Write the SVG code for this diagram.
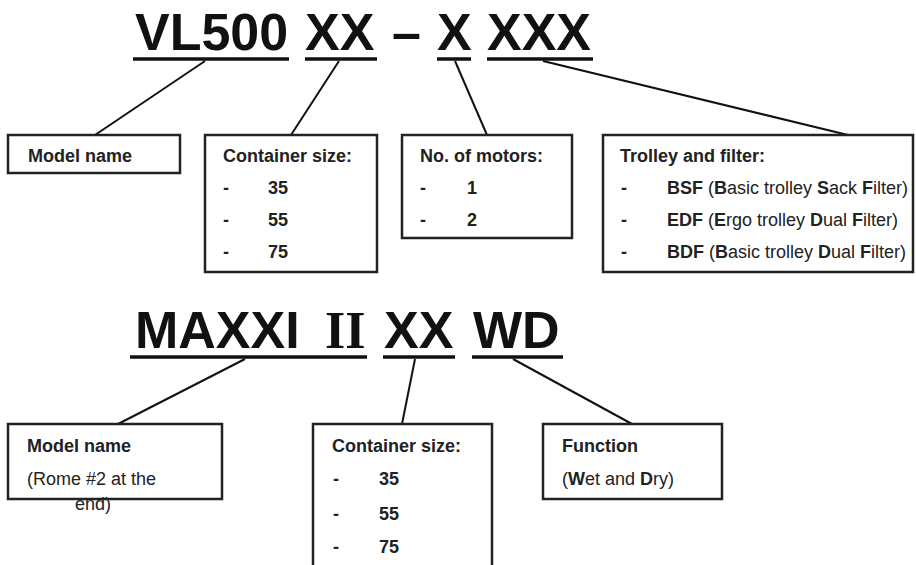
<svg xmlns="http://www.w3.org/2000/svg" width="916" height="565" viewBox="0 0 916 565">
<style>
.big{font-family:"Liberation Sans",Arial,sans-serif;font-weight:bold;font-size:52px;fill:#111}
.roman{font-family:"Liberation Serif","Times New Roman",serif;font-weight:bold;font-size:52px;fill:#111}
.ul{stroke:#111;stroke-width:3.5}
.box{fill:#fff;stroke:#222;stroke-width:2.5}
.conn line{stroke:#111;stroke-width:2}
.t{font-family:"Liberation Sans",Arial,sans-serif;font-size:18px;fill:#222}
.b{font-weight:bold}
</style>
<rect width="916" height="565" fill="#fff"/>
<g id="title1">
<text class="big" x="135" y="50">VL500</text>
<text class="big" x="305" y="50">XX</text>
<text class="big" x="392" y="50">–</text>
<text class="big" x="437" y="50">X</text>
<text class="big" x="487" y="50">XXX</text>
<line class="ul" x1="133" y1="59" x2="289" y2="59"/>
<line class="ul" x1="305" y1="59" x2="377" y2="59"/>
<line class="ul" x1="437" y1="59" x2="471" y2="59"/>
<line class="ul" x1="487" y1="59" x2="593" y2="59"/>
</g>
<g id="title2">
<text class="big" x="135" y="348">MAXXI</text>
<text class="roman" x="325" y="348">II</text>
<text class="big" x="384" y="348">XX</text>
<text class="big" x="473" y="348">WD</text>
<line class="ul" x1="130" y1="357" x2="367" y2="357"/>
<line class="ul" x1="383" y1="357" x2="455" y2="357"/>
<line class="ul" x1="472" y1="357" x2="563" y2="357"/>
</g>
<g id="connectors" class="conn">
<line x1="205" y1="61" x2="95" y2="135"/>
<line x1="339" y1="61" x2="291" y2="135"/>
<line x1="455" y1="61" x2="487" y2="135"/>
<line x1="543" y1="61" x2="848" y2="135"/>
<line x1="245" y1="359" x2="118" y2="424"/>
<line x1="415" y1="359" x2="402" y2="424"/>
<line x1="513" y1="359" x2="632" y2="424"/>
</g>
<g id="model1">
<rect class="box" x="8" y="135" width="172" height="38"/>
<text class="t b" x="28" y="162">Model name</text>
</g>
<g id="container1">
<rect class="box" x="205" y="135" width="172" height="137"/>
<text class="t b" x="223" y="162">Container size:</text>
<text class="t b" x="223" y="194">-</text><text class="t b" x="268" y="194">35</text>
<text class="t b" x="223" y="226">-</text><text class="t b" x="268" y="226">55</text>
<text class="t b" x="223" y="258">-</text><text class="t b" x="268" y="258">75</text>
</g>
<g id="motors">
<rect class="box" x="402" y="135" width="170" height="103"/>
<text class="t b" x="420" y="162">No. of motors:</text>
<text class="t b" x="420" y="194">-</text><text class="t b" x="467" y="194">1</text>
<text class="t b" x="420" y="226">-</text><text class="t b" x="467" y="226">2</text>
</g>
<g id="trolley">
<rect class="box" x="603" y="135" width="310" height="137"/>
<text class="t b" x="620" y="162">Trolley and filter:</text>
<text class="t b" x="621" y="194">-</text>
<text class="t" x="667" y="194"><tspan class="b">BSF</tspan> (<tspan class="b">B</tspan>asic trolley <tspan class="b">S</tspan>ack <tspan class="b">F</tspan>ilter)</text>
<text class="t b" x="621" y="226">-</text>
<text class="t" x="667" y="226"><tspan class="b">EDF</tspan> (<tspan class="b">E</tspan>rgo trolley <tspan class="b">D</tspan>ual <tspan class="b">F</tspan>ilter)</text>
<text class="t b" x="621" y="258">-</text>
<text class="t" x="667" y="258"><tspan class="b">BDF</tspan> (<tspan class="b">B</tspan>asic trolley <tspan class="b">D</tspan>ual <tspan class="b">F</tspan>ilter)</text>
</g>
<g id="model2">
<rect class="box" x="8" y="424" width="214" height="75"/>
<text class="t b" x="27" y="452">Model name</text>
<text class="t" x="27" y="485">(Rome #2 at the</text>
<text class="t" x="75" y="510">end)</text>
</g>
<g id="container2">
<rect class="box" x="313" y="424" width="179" height="150"/>
<text class="t b" x="332" y="452">Container size:</text>
<text class="t b" x="333" y="485">-</text><text class="t b" x="379" y="485">35</text>
<text class="t b" x="333" y="520">-</text><text class="t b" x="379" y="520">55</text>
<text class="t b" x="333" y="553">-</text><text class="t b" x="379" y="553">75</text>
</g>
<g id="function">
<rect class="box" x="543" y="424" width="179" height="75"/>
<text class="t b" x="562" y="452">Function</text>
<text class="t" x="562" y="485">(<tspan class="b">W</tspan>et and <tspan class="b">D</tspan>ry)</text>
</g>
</svg>
